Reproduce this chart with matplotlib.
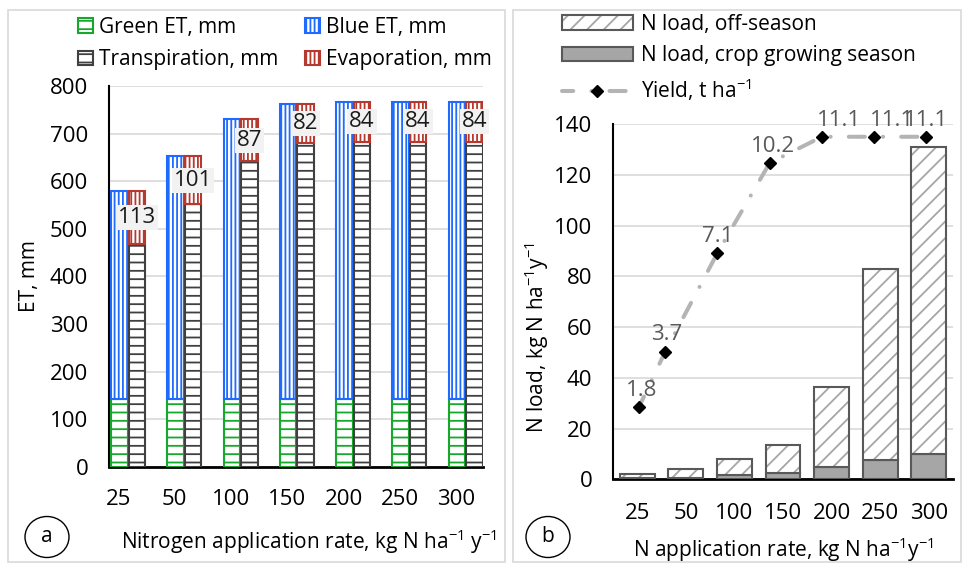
import matplotlib.pyplot as plt
import numpy as np
from matplotlib.patches import Rectangle, Ellipse

plt.rcParams['font.family'] = ['Open Sans', 'DejaVu Sans']
plt.rcParams['mathtext.fontset'] = 'custom'
plt.rcParams['mathtext.rm'] = 'Open Sans'
plt.rcParams['mathtext.default'] = 'regular'
plt.rcParams['hatch.linewidth'] = 1.3

# Data
rates = ['25', '50', '100', '150', '200', '250', '300']
rate_vals = [25, 50, 100, 150, 200, 250, 300]

# panel a: ET components, mm
green_et = [143, 143, 143, 143, 143, 143, 143]
blue_et = [437, 509, 587, 619, 624, 624, 624]
transpiration = [467, 551, 643, 680, 683, 683, 683]
evaporation = [113, 101, 87, 82, 84, 84, 84]

# panel b: N load, kg N/ha/y and yield, t/ha
n_growing = [0.5, 0.7, 1.6, 2.4, 5.0, 7.6, 10.0]
n_offseason = [1.5, 3.2, 6.5, 11.0, 31.5, 75.4, 121.0]
yields = [1.8, 3.7, 7.1, 10.2, 11.1, 11.1, 11.1]

W, H = 966, 565
fig = plt.figure(figsize=(W / 100, H / 100), dpi=100)

def ax_rect(x0, y0, x1, y1):
    return [x0 / W, 1 - y1 / H, (x1 - x0) / W, (y1 - y0) / H]

FS = 15      # text
TFS = 16     # tick labels / numbers
grid_c = '#d9d9d9'

# ---------------- panel a ----------------
ax1 = fig.add_axes(ax_rect(109, 86, 483, 466.7))
x = np.arange(len(rates))
bw = 0.295
off = 0.155

b_green = ax1.bar(x - off, green_et, bw, facecolor='white', edgecolor='#16a82a',
                  hatch='--', lw=1.5, zorder=3)
b_blue = ax1.bar(x - off, blue_et, bw, bottom=green_et, facecolor='white',
                 edgecolor='#1f6bff', hatch='||||', lw=1.5, zorder=3)
b_tr = ax1.bar(x + off, transpiration, bw, facecolor='white', edgecolor='#404040',
               hatch='--', lw=1.5, zorder=3)
b_ev = ax1.bar(x + off, evaporation, bw, bottom=transpiration, facecolor='white',
               edgecolor='#b5392f', hatch='||||', lw=1.5, zorder=3)

for xi, t, e in zip(x, transpiration, evaporation):
    ax1.text(xi + off, t + e / 2, str(e), ha='center', va='center', fontsize=TFS,
             color='#1a1a1a', zorder=5,
             bbox=dict(facecolor='#f2f2f2', edgecolor='none', pad=1.5))

ax1.set_ylim(0, 800)
ax1.set_yticks(np.arange(0, 801, 100))
ax1.set_xlim(-0.34, 6.31)
ax1.set_xticks(x - 0.17)
ax1.set_xticklabels(rates)
ax1.tick_params(axis='both', length=0, labelsize=TFS)
ax1.tick_params(axis='x', pad=16)
ax1.tick_params(axis='y', pad=15)
ax1.grid(axis='y', color=grid_c, lw=1.2, zorder=0)
ax1.set_axisbelow(True)
for s in ['top', 'right']:
    ax1.spines[s].set_visible(False)
ax1.spines['left'].set_linewidth(1.5)
ax1.spines['bottom'].set_linewidth(2)
ax1.set_ylabel('ET, mm', fontsize=FS)
ax1.yaxis.set_label_coords(-0.185, 0.5)

fig.legend([b_green, b_tr, b_blue, b_ev],
           ['Green ET, mm', 'Transpiration, mm', 'Blue ET, mm', 'Evaporation, mm'],
           ncol=2, loc='upper left', bbox_to_anchor=(78 / W, 1 - 17 / H),
           frameon=False, fontsize=FS, handlelength=0.7, handleheight=0.7,
           handletextpad=0.3, columnspacing=1.3, labelspacing=0.55,
           borderpad=0, borderaxespad=0)

fig.text(121 / W, 1 - 542 / H, 'Nitrogen application rate, kg N ha$^{-1}$ y$^{-1}$',
         fontsize=FS, ha='left', va='center')

# ---------------- panel b ----------------
ax2 = fig.add_axes(ax_rect(613, 124, 953, 479.3))
bw2 = 0.72
b_gs = ax2.bar(x, n_growing, bw2, facecolor='#a6a6a6', edgecolor='#595959',
               lw=1.5, zorder=3)
b_os_h = ax2.bar(x, n_offseason, bw2, bottom=n_growing, facecolor='white',
                 edgecolor='#a6a6a6', hatch='//', lw=0, zorder=3)
b_os_e = ax2.bar(x, n_offseason, bw2, bottom=n_growing, facecolor='none',
                 edgecolor='#595959', lw=1.5, zorder=4)

ax2.set_ylim(0, 140)
ax2.set_yticks(np.arange(0, 141, 20))
ax2.set_xlim(-0.5, 6.5)
ax2.set_xticks(x)
ax2.set_xticklabels(rates)
ax2.tick_params(axis='both', length=0, labelsize=TFS)
ax2.tick_params(axis='x', pad=17)
ax2.tick_params(axis='y', pad=15)
ax2.grid(axis='y', color=grid_c, lw=1.2, zorder=0)
ax2.set_axisbelow(True)
for s in ['top', 'right']:
    ax2.spines[s].set_visible(False)
ax2.spines['left'].set_linewidth(1.5)
ax2.spines['bottom'].set_linewidth(2)
ax2.set_ylabel('N load, kg N ha$^{-1}$y$^{-1}$', fontsize=FS)
ax2.yaxis.set_label_coords(-0.182, 0.4)

# yield on hidden secondary axes with a numeric x scale
ax3 = fig.add_axes(ax_rect(613, 124, 953, 479.3))
ax3.patch.set_alpha(0)
ln, = ax3.plot(rate_vals, yields, color='#b4b4b4', lw=2.9,
               linestyle=(1.2, (4, 4.5, 0.01, 4.5)), dash_capstyle='round',
               marker='D', markersize=6.5, markerfacecolor='black',
               markeredgecolor='black', zorder=6)
label_dx = [2, 1, 0, 2, 12, 13, 0]
for xv, yv, dx in zip(rate_vals, yields, label_dx):
    ax3.annotate(f'{yv:.1f}', (xv, yv), xytext=(dx, 12), textcoords='offset points',
                 ha='center', va='center', fontsize=TFS, color='#595959', zorder=7)
ax3.set_xlim(0, 325.4)
ax3.set_ylim(-0.70, 11.54)
ax3.axis('off')

fig.legend([(b_os_h, b_os_e), b_gs, ln],
           ['N load, off-season', 'N load, crop growing season', 'Yield, t ha$^{-1}$'],
           loc='upper left', bbox_to_anchor=(562 / W, 1 - 14 / H),
           frameon=False, fontsize=FS, handlelength=3.4, handleheight=0.7,
           handletextpad=0.4, labelspacing=0.5, borderpad=0, borderaxespad=0)

fig.text(633 / W, 1 - 550 / H, 'N application rate, kg N ha$^{-1}$y$^{-1}$',
         fontsize=FS, ha='left', va='center')

# panel frames and letters
fig.patches.append(Rectangle((8 / W, 1 - 562 / H), (505 - 8) / W, (562 - 10) / H,
                             transform=fig.transFigure, fill=False,
                             edgecolor='#d9d9d9', lw=1.2))
fig.patches.append(Rectangle((513 / W, 1 - 562 / H), (961 - 513) / W, (562 - 10) / H,
                             transform=fig.transFigure, fill=False,
                             edgecolor='#d9d9d9', lw=1.2))
for cx, cy, letter in [(47, 537, 'a'), (548, 537, 'b')]:
    fig.patches.append(Ellipse((cx / W, 1 - cy / H), 44 / W, 41 / H,
                               transform=fig.transFigure, fill=False,
                               edgecolor='black', lw=1))
    fig.text(cx / W, 1 - cy / H, letter, fontsize=FS, ha='center', va='center')

fig.savefig('out.png', dpi=100)
